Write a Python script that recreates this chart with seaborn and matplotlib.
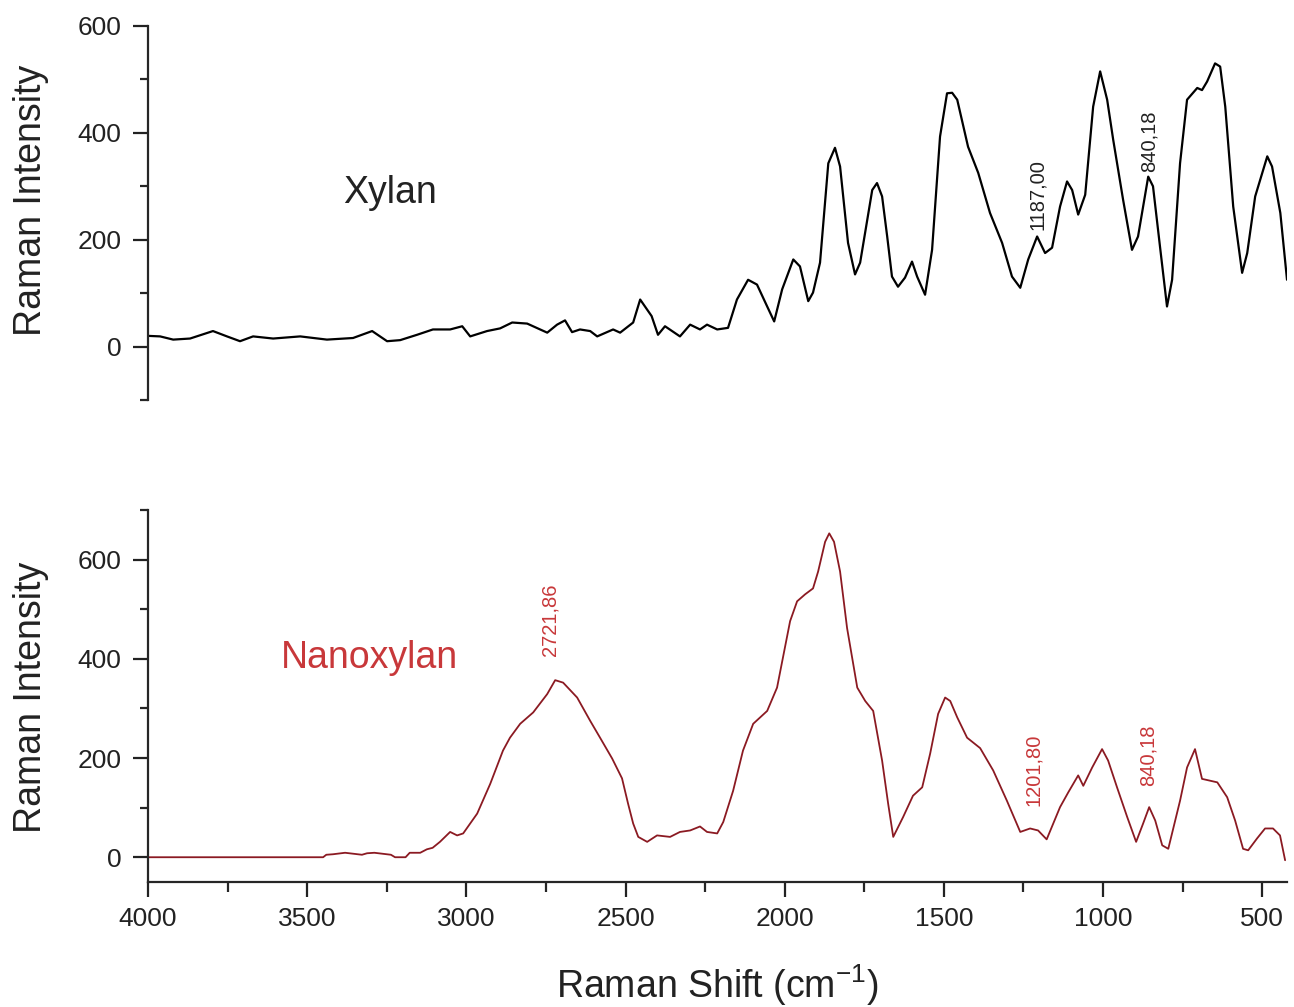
import pandas as pd
import matplotlib
matplotlib.use('Agg')
import matplotlib.pyplot as plt
from matplotlib.ticker import MultipleLocator
import seaborn as sns

# Xylan spectrum
xylan_shift = [4000, 3962, 3921, 3868, 3796, 3752, 3711, 3670, 3607, 3522, 3438, 3356, 3296, 3249,
               3208, 3155, 3105, 3051, 3013, 2988, 2935, 2894, 2856, 2809, 2746, 2715, 2690, 2668,
               2643, 2611, 2589, 2539, 2517, 2476, 2454, 2418, 2398, 2376, 2329, 2297, 2266, 2244,
               2212, 2178, 2150, 2115, 2087, 2055, 2033, 2008, 1973, 1952, 1926, 1911, 1889, 1863,
               1842, 1826, 1801, 1779, 1763, 1725, 1710, 1694, 1678, 1663, 1644, 1622, 1600, 1584,
               1559, 1537, 1512, 1490, 1474, 1458, 1424, 1392, 1355, 1317, 1286, 1260, 1235, 1207,
               1182, 1160, 1135, 1113, 1097, 1078, 1056, 1031, 1009, 987, 968, 937, 909, 890, 858,
               843, 821, 799, 783, 758, 736, 704, 689, 673, 648, 632, 616, 591, 563, 547, 522, 484,
               469, 443, 422]
xylan_int = [20, 19, 13, 15, 29, 19, 10, 19, 15, 19, 13, 16, 29, 10,
             12, 22, 32, 32, 38, 19, 29, 34, 45, 43, 26, 41, 49, 27,
             32, 29, 19, 32, 26, 45, 88, 57, 22, 38, 19, 41, 32, 41,
             32, 35, 88, 125, 116, 75, 47, 107, 163, 150, 85, 101, 157, 343,
             372, 337, 194, 135, 157, 293, 306, 281, 206, 131, 112, 129, 159, 131,
             97, 181, 393, 474, 475, 462, 374, 325, 250, 194, 131, 110, 163, 206,
             175, 185, 262, 309, 293, 247, 284, 449, 515, 462, 387, 275, 181, 206, 318,
             300, 187, 75, 125, 343, 462, 484, 480, 496, 530, 524, 449, 262, 138, 175, 281, 356,
             337, 250, 125]

# Nanoxylan spectrum
nano_shift = [4000, 3700, 3450, 3440, 3419, 3381, 3328, 3312, 3289, 3237, 3224, 3191, 3178, 3145,
              3124, 3106, 3083, 3051, 3029, 3010, 2966, 2925, 2885, 2863, 2831, 2790, 2746, 2721,
              2696, 2652, 2611, 2580, 2542, 2511, 2492, 2476, 2460, 2432, 2401, 2360, 2329, 2297,
              2266, 2244, 2212, 2193, 2162, 2131, 2099, 2055, 2024, 1983, 1961, 1936, 1911, 1895,
              1873, 1860, 1845, 1826, 1804, 1772, 1747, 1722, 1694, 1675, 1659, 1628, 1597, 1568,
              1543, 1518, 1496, 1480, 1458, 1427, 1386, 1345, 1302, 1260, 1229, 1204, 1177, 1135,
              1109, 1078, 1062, 1034, 1003, 984, 956, 924, 896, 874, 855, 836, 814, 795, 758, 736,
              711, 689, 641, 610, 585, 560, 544, 516, 491, 466, 444, 428]
nano_int = [0, 0, 0, 5, 6, 9, 5, 8, 9, 5, 0, 0, 9, 9,
            16, 19, 31, 51, 44, 48, 88, 148, 215, 241, 269, 292, 329, 357,
            352, 322, 275, 241, 199, 159, 108, 68, 41, 31, 44, 41, 51, 54,
            62, 51, 48, 71, 134, 215, 269, 295, 342, 476, 516, 530, 542, 576,
            636, 653, 636, 576, 462, 342, 315, 295, 195, 108, 41, 81, 124, 141,
            209, 289, 322, 315, 282, 241, 220, 175, 114, 51, 58, 54, 36, 101,
            131, 165, 144, 181, 218, 195, 141, 81, 31, 68, 101, 74, 24, 17, 114, 181,
            218, 158, 151, 121, 74, 17, 14, 38, 58, 58, 44, -6]

xylan_peaks = [(1207, 219, '1187,00'), (855, 327, '840,18')]
nano_peaks = [(2737, 405, '2721,86'), (1219, 104, '1201,80'), (858, 144, '840,18')]

xylan_df = pd.DataFrame({'shift': xylan_shift, 'intensity': xylan_int})
nano_df = pd.DataFrame({'shift': nano_shift, 'intensity': nano_int})

sns.set_style('ticks')
plt.rcParams['font.family'] = ['Liberation Sans', 'DejaVu Sans']
plt.rcParams['mathtext.default'] = 'regular'

line_red = '#8b1a22'
text_red = '#c8383a'
tick_col = '#222222'

fig = plt.figure(figsize=(12.94, 10.07), dpi=100)
ax1 = fig.add_axes([0.1144, 0.6028, 0.8802, 0.3714])
ax2 = fig.add_axes([0.1144, 0.1241, 0.8802, 0.3694])

sns.lineplot(data=xylan_df, x='shift', y='intensity', ax=ax1, color='black', lw=1.6, sort=False)
sns.lineplot(data=nano_df, x='shift', y='intensity', ax=ax2, color=line_red, lw=1.3, sort=False)

for ax in (ax1, ax2):
    ax.set_xlim(4000, 422)
    for s in ('top', 'right'):
        ax.spines[s].set_visible(False)
    ax.spines['left'].set_linewidth(1.6)
    ax.spines['bottom'].set_linewidth(1.6)
    ax.yaxis.set_major_locator(MultipleLocator(200))
    ax.yaxis.set_minor_locator(MultipleLocator(100))
    ax.tick_params(axis='y', which='major', length=11, width=1.6, pad=8, labelsize=19, colors=tick_col)
    ax.tick_params(axis='y', which='minor', length=6, width=1.6)
    ax.set_ylabel('Raman Intensity', fontsize=27, color='#222222')
    ax.set_xlabel('')

ax1.set_ylim(-100, 600)
ax1.spines['bottom'].set_visible(False)
ax1.tick_params(axis='x', which='both', bottom=False, labelbottom=False)
ax1.yaxis.set_label_coords(-0.087, 0.535)

ax2.set_ylim(-50, 700)
ax2.xaxis.set_major_locator(MultipleLocator(500))
ax2.xaxis.set_minor_locator(MultipleLocator(250))
ax2.tick_params(axis='x', which='major', length=11, width=1.6, pad=7, labelsize=19, colors=tick_col)
ax2.tick_params(axis='x', which='minor', length=7, width=1.6)
ax2.yaxis.set_label_coords(-0.087, 0.497)
ax2.set_xlabel('Raman Shift (cm$^{-1}$)', fontsize=27, color='#222222')
ax2.xaxis.set_label_coords(0.5, -0.215)

ax1.text(3240, 288, 'Xylan', fontsize=27, color='#222222', ha='center', va='center')
ax2.text(3303, 401, 'Nanoxylan', fontsize=27, color=text_red, ha='center', va='center')

for x, y, lab in xylan_peaks:
    ax1.text(x, y, lab, rotation=90, fontsize=14.5, color='#222222', ha='center', va='bottom')
for x, y, lab in nano_peaks:
    ax2.text(x, y, lab, rotation=90, fontsize=14.5, color=text_red, ha='center', va='bottom')

plt.savefig('out.png', dpi=100)
